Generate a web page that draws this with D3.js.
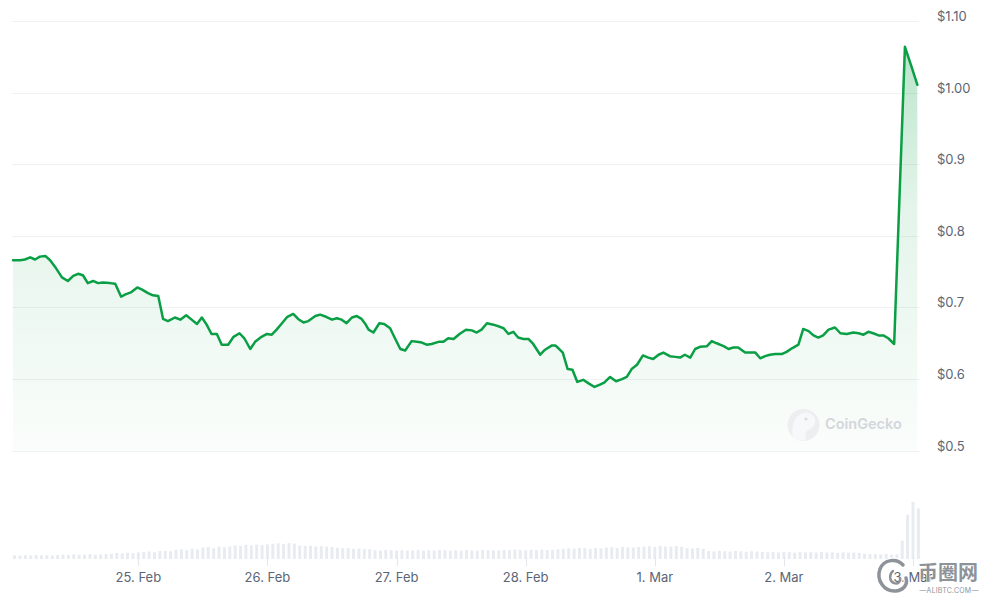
<!DOCTYPE html>
<html>
<head>
<meta charset="utf-8">
<script src="https://cdn.jsdelivr.net/npm/d3@7"></script>
<style>
  html, body { margin: 0; padding: 0; background: #ffffff; }
  svg { display: block; font-family: Inter, "Noto Sans", sans-serif; }
</style>
</head>
<body>
<svg id="chart" width="984" height="595"></svg>
<script>
// ---------- DATA ----------
// hours since 24 Feb 00:00 (UTC)
const priceHours = [0.7,2.0,2.9,3.9,4.8,5.7,6.7,7.6,8.5,9.8,10.9,11.9,12.8,13.7,14.6,15.6,16.5,17.4,18.7,19.7,
  20.8,21.5,22.6,23.8,24.7,25.8,26.7,27.7,28.6,29.5,30.8,31.8,32.9,33.9,34.9,35.8,36.7,37.6,38.6,39.5,
  40.7,41.7,42.8,43.7,44.8,45.7,46.9,47.9,48.8,49.7,50.7,51.7,52.8,53.7,54.7,55.6,56.9,57.8,58.9,60.0,
  60.9,61.8,62.7,63.7,64.6,65.5,66.1,66.8,67.7,68.8,69.7,70.8,71.7,72.7,73.6,74.8,75.8,76.7,77.6,78.5,
  79.8,80.7,81.6,82.6,83.7,84.9,86.0,86.9,87.8,88.8,90.0,91.2,91.9,92.8,93.7,94.6,95.6,96.5,97.4,98.7,
  99.6,100.9,101.5,102.1,102.9,103.8,104.7,105.6,106.7,107.7,108.8,109.7,110.6,111.7,112.8,113.9,114.8,115.7,116.7,117.8,
  118.8,119.7,120.7,121.6,122.8,123.8,124.7,125.6,126.6,127.5,128.4,129.7,130.6,131.5,132.8,133.7,134.6,135.5,136.8,137.7,
  138.7,139.6,140.5,141.4,142.4,143.6,144.5,145.5,146.7,147.6,148.6,149.5,150.4,151.3,152.3,153.5,154.5,155.7,156.9,157.9,
  158.8,159.7,160.6,161.6,162.5,163.4,164.5,166.5,167.6,168.8];
const prices = [0.766,0.766,0.767,0.770,0.767,0.771,0.772,0.766,0.757,0.742,0.737,0.744,0.747,0.745,0.734,0.737,0.734,0.735,0.734,0.733,
  0.715,0.718,0.721,0.728,0.725,0.720,0.717,0.716,0.684,0.681,0.686,0.683,0.689,0.683,0.677,0.686,0.676,0.663,0.663,0.648,
  0.648,0.659,0.664,0.657,0.642,0.652,0.659,0.663,0.662,0.669,0.678,0.687,0.691,0.684,0.679,0.681,0.688,0.690,0.687,0.683,
  0.685,0.683,0.678,0.686,0.688,0.684,0.678,0.669,0.665,0.678,0.677,0.671,0.657,0.642,0.640,0.653,0.652,0.651,0.648,0.649,
  0.652,0.652,0.657,0.656,0.663,0.669,0.668,0.665,0.669,0.678,0.676,0.673,0.671,0.663,0.666,0.658,0.656,0.656,0.649,0.634,
  0.641,0.647,0.647,0.643,0.637,0.614,0.613,0.596,0.599,0.594,0.589,0.592,0.595,0.603,0.597,0.600,0.603,0.614,0.620,0.633,
  0.630,0.628,0.634,0.637,0.632,0.631,0.630,0.634,0.630,0.642,0.645,0.646,0.653,0.650,0.646,0.642,0.644,0.644,0.637,0.637,
  0.637,0.629,0.632,0.634,0.635,0.635,0.638,0.643,0.648,0.670,0.667,0.661,0.658,0.661,0.669,0.672,0.664,0.663,0.665,0.664,
  0.662,0.666,0.664,0.661,0.661,0.657,0.649,1.064,1.039,1.011];
// hourly volume (USD millions), hours 1..169
const volumes = [38,35,40,36,42,38,40,37,43,
  45,42,48,44,46,50,45,48,52,
  55,62,58,65,60,68,
  72,78,70,82,85,80,
  95,100,92,105,98,
  118,125,112,128,122,130,
  140,135,148,142,150,145,152,
  158,162,155,165,160,
  140,135,138,130,132,128,125,
  115,110,112,105,108,102,100,
  92,88,95,90,86,92,88,90,94,87,91,89,93,
  90,86,92,88,94,90,87,93,89,91,88,
  95,92,98,94,90,96,93,97,92,95,99,
  105,110,108,115,112,106,114,110,
  118,122,115,125,120,118,124,
  128,132,126,135,130,128,133,127,
  112,108,115,105,
  82,78,85,80,76,83,79,75,81,77,74,
  70,72,68,74,70,66,72,69,71,67,73,68,70,65,69,66,68,64,
  55,52,50,48,52,45,48,
  190,460,590,525];
const volumeHours = d3.range(1, volumes.length + 1);
const yTickValues = [0.5, 0.6, 0.7, 0.8, 0.9, 1.0, 1.1];
const yTickLabels = ["$0.5", "$0.6", "$0.7", "$0.8", "$0.9", "$1.00", "$1.10"];

// ---------- SETUP ----------
const T0 = Date.UTC(2025, 1, 24);
const toDate = h => new Date(T0 + h * 3600000);
const series = priceHours.map((h, i) => ({ date: toDate(h), value: prices[i] }));
const vols = volumeHours.map((h, i) => ({ date: toDate(h), value: volumes[i] }));

const svg = d3.select("#chart");
const lineColor = "#0a9f45";
const labelColor = "#5b6577";

const x = d3.scaleUtc()
  .domain([series[0].date, series[series.length - 1].date])
  .range([13, 917.3]);
const y = d3.scaleLinear().domain([0.5, 1.1]).range([450.7, 21]);
const vy = d3.scaleLinear().domain([0, 600]).range([559, 501]);

// gridlines
svg.append("g").selectAll("line").data(yTickValues).join("line")
  .attr("x1", 12).attr("x2", 919)
  .attr("y1", d => Math.round(y(d)) + 0.5).attr("y2", d => Math.round(y(d)) + 0.5)
  .attr("stroke", "#eff1f3").attr("stroke-width", 1);

// y labels (right)
svg.append("g").selectAll("text").data(yTickValues).join("text")
  .attr("x", 937).attr("y", d => y(d))
  .attr("fill", labelColor).attr("font-size", 13)
  .text((d, i) => yTickLabels[i]);

// volume bars
svg.append("g").selectAll("rect").data(vols).join("rect")
  .attr("x", d => x(d.date) - 1.5)
  .attr("width", 3)
  .attr("y", d => vy(d.value))
  .attr("height", d => vy(0) - vy(d.value))
  .attr("fill", "#e8ecf1");

// x axis
const xTicks = x.ticks(d3.utcDay.every(1));
const fmt = d3.utcFormat("%-d. %b");
const xg = svg.append("g");
xg.selectAll("line").data(xTicks).join("line")
  .attr("x1", d => Math.round(x(d)) + 0.5).attr("x2", d => Math.round(x(d)) + 0.5)
  .attr("y1", 557).attr("y2", 566)
  .attr("stroke", "#e3e6ea");
xg.selectAll("text").data(xTicks).join("text")
  .attr("x", d => x(d)).attr("y", 582)
  .attr("text-anchor", "middle")
  .attr("fill", labelColor).attr("font-size", 13)
  .text(d => fmt(d));

// gradient area
const defs = svg.append("defs");
const grad = defs.append("linearGradient").attr("id", "areaGrad")
  .attr("gradientUnits", "userSpaceOnUse")
  .attr("x1", 0).attr("x2", 0)
  .attr("y1", y(d3.max(prices))).attr("y2", y(0.5));
grad.append("stop").attr("offset", 0).attr("stop-color", lineColor).attr("stop-opacity", 0.28);
grad.append("stop").attr("offset", 0.4).attr("stop-color", lineColor).attr("stop-opacity", 0.11);
grad.append("stop").attr("offset", 1).attr("stop-color", lineColor).attr("stop-opacity", 0.02);

svg.append("path").datum(series)
  .attr("fill", "url(#areaGrad)")
  .attr("d", d3.area().x(d => x(d.date)).y0(y(0.5)).y1(d => y(d.value)));

// CoinGecko watermark
const wm = svg.append("g").attr("opacity", 1);
wm.append("circle").attr("cx", 803.5).attr("cy", 425).attr("r", 16).attr("fill", "#eceef0");
wm.append("path")
  .attr("d", "M793,437 C791,428 793,416 803,413 C811,411 816,417 815,423 C814,428 808,429 806,432 C805,435 806,438 806,440 C801,441 796,440 793,437 Z")
  .attr("fill", "#f7f8f9");
wm.append("circle").attr("cx", 806).attr("cy", 419).attr("r", 1.6).attr("fill", "#d9dcdf");
wm.append("text").attr("x", 825).attr("y", 429)
  .attr("font-size", 14.5).attr("font-weight", 600).attr("fill", "#d3d6da")
  .text("CoinGecko");

// price line
svg.append("path").datum(series)
  .attr("fill", "none").attr("stroke", lineColor).attr("stroke-width", 2.5)
  .attr("stroke-linejoin", "round").attr("stroke-linecap", "round")
  .attr("d", d3.line().x(d => x(d.date)).y(d => y(d.value)));

// site watermark (bottom-right)
const sw = svg.append("g");
sw.append("path")
  .attr("d", "M903,565 C897,558 884,559 880,569 C876,580 884,592 896,591 C904,590 908,584 906,578")
  .attr("fill", "none").attr("stroke", "#ffffff").attr("stroke-width", 6).attr("stroke-linecap", "round");
sw.append("path")
  .attr("d", "M903,565 C897,558 884,559 880,569 C876,580 884,592 896,591 C904,590 908,584 906,578")
  .attr("fill", "none").attr("stroke", "#8e9299").attr("stroke-width", 3.5).attr("stroke-linecap", "round");
sw.append("path")
  .attr("d", "M893,571 C889,574 889,581 894,583 C898,585 901,581 900,578")
  .attr("fill", "none").attr("stroke", "#8e9299").attr("stroke-width", 2.5).attr("stroke-linecap", "round");
sw.append("text").attr("x", 918).attr("y", 580)
  .attr("font-family", "'Noto Sans CJK SC', sans-serif")
  .attr("font-size", 20).attr("font-weight", 700)
  .attr("fill", "#8e9299").attr("stroke", "#ffffff").attr("stroke-width", 0.8)
  .attr("paint-order", "stroke")
  .text("币圈网");
sw.append("text").attr("x", 949).attr("y", 593).attr("text-anchor", "middle")
  .attr("font-size", 7).attr("fill", "#8e9299").attr("letter-spacing", 0.2)
  .text("—ALIBTC.COM—");
</script>
</body>
</html>
